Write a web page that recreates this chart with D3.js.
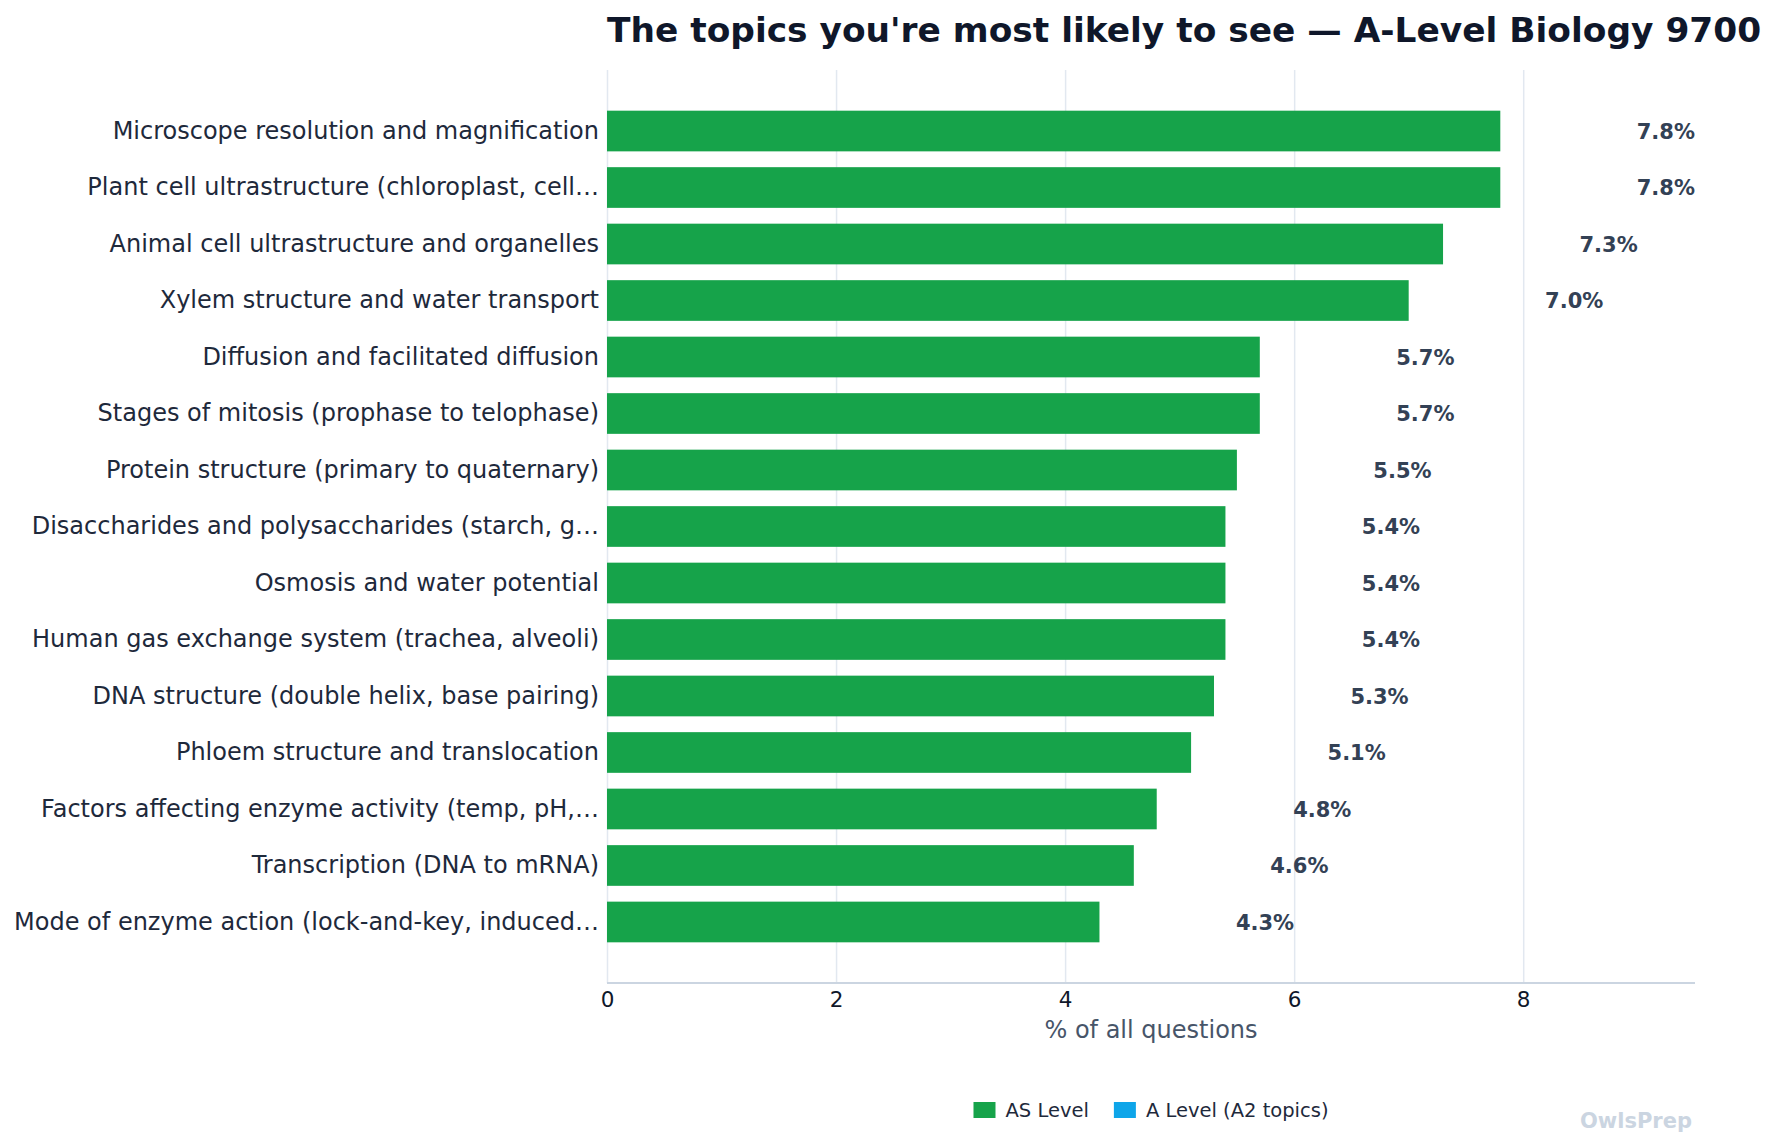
<!DOCTYPE html>
<html>
<head>
  <style>
  body {
    margin: 0;
    background: #fff;
    font-family: "DejaVu Sans", sans-serif;
  }
  .grid line {
    stroke: #e2e8f0;
    stroke-width: 1.5px;
  }
  .grid .domain {
    display: none;
  }
  .x.axis .domain {
    stroke: #cbd5e1;
    stroke-width: 2px;
  }
  .x.axis .tick line {
    display: none;
  }
  .x.axis .tick text {
    font-size: 21.5px;
    fill: #0f172a;
  }
  .y.axis .domain, .y.axis .tick line {
    display: none;
  }
  .y.axis .tick text {
    font-size: 24px;
    fill: #1e293b;
  }
  .value {
    font-size: 21px;
    font-weight: bold;
    fill: #334155;
  }
  </style>
</head>
<body>
  <div id="chart"></div>
  <script src="https://d3js.org/d3.v7.min.js"></script>
  <script>
  var topics = [
    "Microscope resolution and magnification",
    "Plant cell ultrastructure (chloroplast, cell…",
    "Animal cell ultrastructure and organelles",
    "Xylem structure and water transport",
    "Diffusion and facilitated diffusion",
    "Stages of mitosis (prophase to telophase)",
    "Protein structure (primary to quaternary)",
    "Disaccharides and polysaccharides (starch, g…",
    "Osmosis and water potential",
    "Human gas exchange system (trachea, alveoli)",
    "DNA structure (double helix, base pairing)",
    "Phloem structure and translocation",
    "Factors affecting enzyme activity (temp, pH,…",
    "Transcription (DNA to mRNA)",
    "Mode of enzyme action (lock-and-key, induced…"
  ];
  var shares = [7.8, 7.8, 7.3, 7.0, 5.7, 5.7, 5.5, 5.4, 5.4, 5.4, 5.3, 5.1, 4.8, 4.6, 4.3];
  var levels = ["AS", "AS", "AS", "AS", "AS", "AS", "AS", "AS", "AS", "AS", "AS", "AS", "AS", "AS", "AS"];
  var xTicks = [0, 2, 4, 6, 8];
  var legendKeys = ["AS", "A2"];
  var legendLabels = ["AS Level", "A Level (A2 topics)"];
  var levelColors = {AS: "#16a34a", A2: "#0ea5e9"};

  var W = 1774, H = 1145;
  var margin = {top: 70, right: 79, bottom: 162, left: 607};
  var width = W - margin.left - margin.right,
      height = H - margin.top - margin.bottom;
  var font = "DejaVu Sans, sans-serif";

  var svg = d3.select("#chart").append("svg")
      .attr("width", W)
      .attr("height", H)
      .style("font-family", font);

  var g = svg.append("g")
      .attr("transform", "translate(" + margin.left + "," + margin.top + ")");

  var x = d3.scaleLinear()
    .domain([0, 9.5])
    .range([0, width]);

  var y = d3.scaleBand()
    .domain(topics)
    .range([0, height])
    .paddingInner(0.28)
    .paddingOuter(0.72);

  // gridlines
  g.append("g")
      .attr("class", "grid")
      .call(d3.axisBottom(x).tickValues(xTicks).tickSize(height).tickFormat(""));

  var data = topics.map(function(t, i){ return {topic: t, value: shares[i], level: levels[i]}; });

  g.selectAll("rect.bar")
      .data(data)
    .enter().append("rect")
      .attr("class", "bar")
      .attr("x", x(0))
      .attr("y", function(d){ return y(d.topic); })
      .attr("width", function(d){ return x(d.value) - x(0); })
      .attr("height", y.bandwidth())
      .style("fill", function(d){ return levelColors[d.level]; });

  var labelOffset = x(1.2) - x(0) - 1;
  g.selectAll("text.value")
      .data(data)
    .enter().append("text")
      .attr("class", "value")
      .attr("x", function(d){ return x(d.value) + labelOffset; })
      .attr("y", function(d){ return y(d.topic) + y.bandwidth() / 2; })
      .attr("dy", "0.36em")
      .text(function(d){ return d.value.toFixed(1) + "%"; });

  g.append("g")
      .attr("class", "x axis")
      .attr("transform", "translate(0," + height + ")")
      .call(d3.axisBottom(x).tickValues(xTicks).tickSize(0).tickPadding(9).tickFormat(d3.format("d")))
      .attr("font-family", font);

  g.append("g")
      .attr("class", "y axis")
      .call(d3.axisLeft(y).tickSize(0).tickPadding(8))
      .attr("font-family", font);

  g.select(".x.axis .domain").attr("d", "M0,0H" + width);

  // axis title
  g.append("text")
      .attr("x", width / 2)
      .attr("y", height + 55)
      .style("text-anchor", "middle")
      .style("font-size", "24px")
      .style("fill", "#475569")
      .text("% of all questions");

  // title
  svg.append("text")
      .attr("x", margin.left)
      .attr("y", 42)
      .style("font-size", "34.4px")
      .style("font-weight", "bold")
      .style("fill", "#0f172a")
      .text("The topics you're most likely to see — A-Level Biology 9700");

  // legend
  var legend = svg.append("g").attr("class", "legend");
  var items = legend.selectAll("g")
      .data(legendKeys)
    .enter().append("g");
  items.append("rect")
      .attr("width", 22)
      .attr("height", 16)
      .attr("y", -8)
      .style("fill", function(d){ return levelColors[d]; });
  items.append("text")
      .attr("x", 32)
      .attr("dy", "0.36em")
      .style("font-size", "19.5px")
      .style("fill", "#1e293b")
      .text(function(d, i){ return legendLabels[i]; });
  var pos = 0;
  items.each(function(){
    d3.select(this).attr("transform", "translate(" + pos + ",0)");
    pos += this.getBBox().width + 25;
  });
  var legendWidth = pos - 25;
  legend.attr("transform", "translate(" + (margin.left + width / 2 - legendWidth / 2) + ",1110)");

  // watermark
  svg.append("text")
      .attr("x", margin.left + width - 3)
      .attr("y", 1128)
      .style("text-anchor", "end")
      .style("font-size", "21px")
      .style("font-weight", "bold")
      .style("fill", "#cbd5e1")
      .text("OwlsPrep");
  </script>
</body>
</html>
